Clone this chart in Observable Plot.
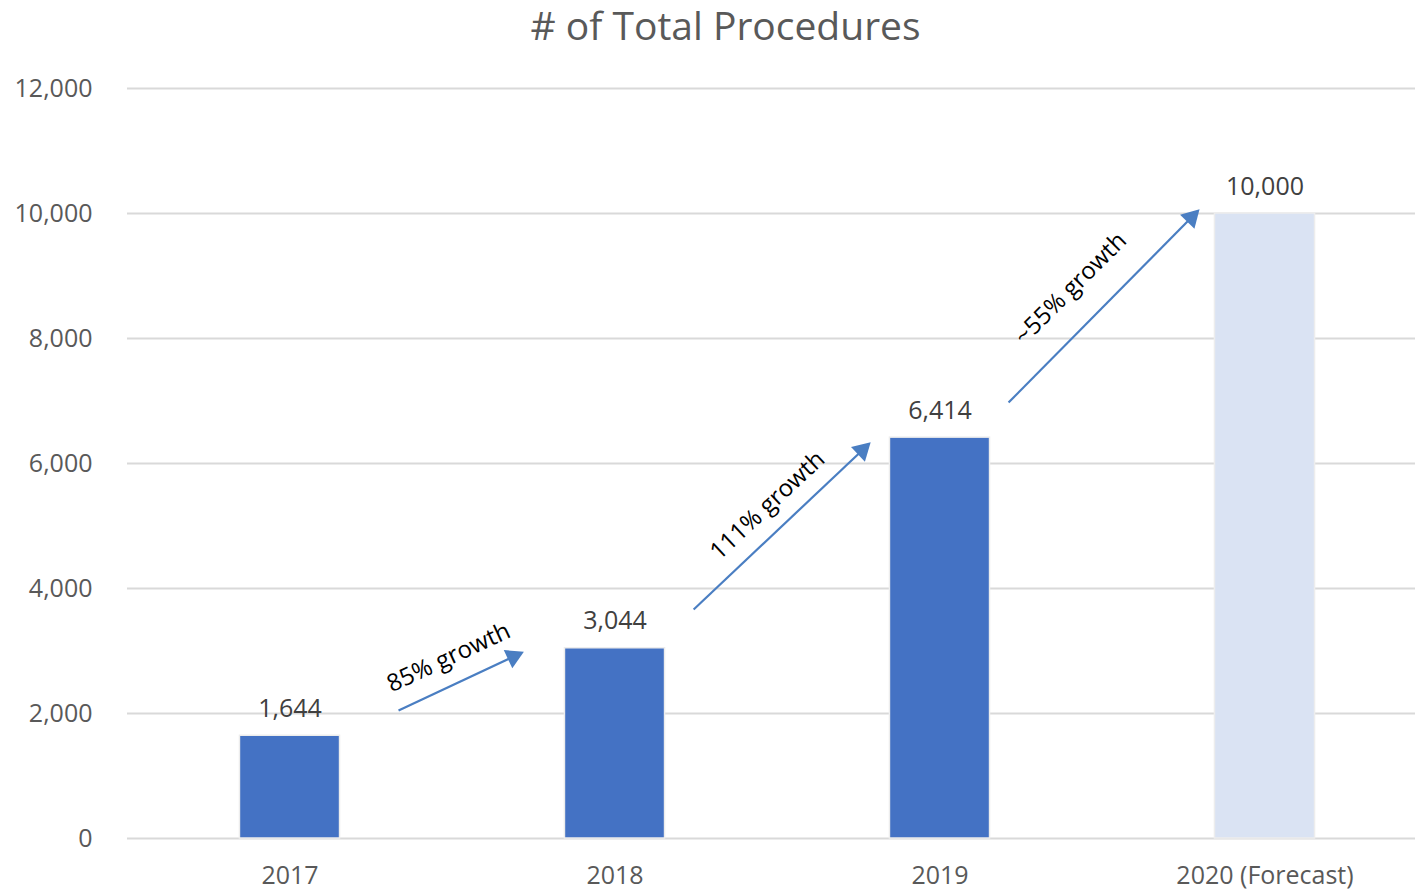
<!DOCTYPE html>
<html>
<head>
<meta charset="utf-8">
<script src="https://cdn.jsdelivr.net/npm/d3@7"></script>
<script src="https://cdn.jsdelivr.net/npm/@observablehq/plot@0.6"></script>
<style>
  html, body { margin: 0; padding: 0; background: #fff; }
  #wrap { width: 1415px; height: 893px; position: relative; font-family: "Open Sans", sans-serif; }
  #title { height: 50px; line-height: 50px; text-align: center; font-size: 39px; color: #595959; padding-left: 36px; }
</style>
</head>
<body>
<div id="wrap">
  <div id="title"># of Total Procedures</div>
  <div id="chart"></div>
</div>
<script>
const categories = ["2017", "2018", "2019", "2020 (Forecast)"];
const values = [1644, 3044, 6414, 10000];
const barColors = ["#4472C4", "#4472C4", "#4472C4", "#DAE3F3"];
const yTicks = [0, 2000, 4000, 6000, 8000, 10000, 12000];

// growth annotations (positions in data units: x = category index, y = procedures)
const growthLabels = ["85% growth", "111% growth", "~55% growth"];
const arrowX1 = [0.334, 1.242, 2.211];
const arrowY1 = [2048, 3664, 6976];
const arrowX2 = [0.715, 1.783, 2.795];
const arrowY2 = [2976, 6320, 10048];
const labelX = [0.488, 1.469, 2.402];
const labelY = [2896, 5328, 8800];
const labelRotate = [-25, -43, -45];

const bars = categories.map((c, i) => ({i, c, v: values[i], fill: barColors[i]}));
const arrows = growthLabels.map((t, k) => ({
  t, x1: arrowX1[k], y1: arrowY1[k], x2: arrowX2[k], y2: arrowY2[k],
  lx: labelX[k], ly: labelY[k], r: labelRotate[k]
}));
const halfW = 0.154;
const fmt = d3.format(",");
const arrowColor = "#4A7EC2";

function build(heads) {
  return Plot.plot({
    width: 1415,
    height: 843,
    marginLeft: 127,
    marginRight: 0,
    marginTop: 38,
    marginBottom: 55,
    style: {fontFamily: "Open Sans, sans-serif", background: "#fff"},
    x: {type: "linear", domain: [-0.5, 3.5], range: [127, 1427]},
    y: {domain: [0, 12000]},
    marks: [
      Plot.ruleY(yTicks, {stroke: "#D9D9D9", strokeWidth: 2}),
      Plot.rectY(bars, {x1: d => d.i - halfW, x2: d => d.i + halfW, y1: 0, y2: "v", fill: "fill", stroke: "#EDEDED", strokeWidth: 1.5}),
      Plot.text(bars, {x: "i", y: "v", text: d => fmt(d.v), dy: -27, fontSize: 25, fill: "#404040"}),
      Plot.link(heads, {x1: "x1", y1: "y1", x2: "bx", y2: "by", stroke: arrowColor, strokeWidth: 2.2}),
      Plot.dot(heads, {x: "hx", y: "hy", symbol: "triangle", r: 7.5, rotate: "rot", fill: arrowColor, stroke: "none"}),
      Plot.text(arrows, {x: "lx", y: "ly", text: "t", rotate: "r", fontSize: 24, fill: "#000"}),
      Plot.axisY(yTicks, {tickSize: 0, tickPadding: 35, tickFormat: fmt, fontSize: 25, fill: "#595959", anchor: "left"}),
      Plot.axisX([0, 1, 2, 3], {tickSize: 0, tickPadding: 28, tickFormat: i => categories[i], fontSize: 25, fill: "#595959", anchor: "bottom"})
    ]
  });
}

// first pass to obtain the scales, then compute arrowheads in screen space
const probe = build([]);
const sx = probe.scale("x"), sy = probe.scale("y");
const heads = arrows.map(a => {
  const px1 = sx.apply(a.x1), py1 = sy.apply(a.y1);
  const px2 = sx.apply(a.x2), py2 = sy.apply(a.y2);
  const ang = Math.atan2(py2 - py1, px2 - px1);
  const hxp = px2 - Math.cos(ang) * 10, hyp = py2 - Math.sin(ang) * 10;
  const bxp = px2 - Math.cos(ang) * 12, byp = py2 - Math.sin(ang) * 12;
  return {
    ...a,
    hx: sx.invert(hxp), hy: sy.invert(hyp),
    bx: sx.invert(bxp), by: sy.invert(byp),
    rot: 90 + ang * 180 / Math.PI
  };
});
document.getElementById("chart").appendChild(build(heads));
</script>
</body>
</html>
